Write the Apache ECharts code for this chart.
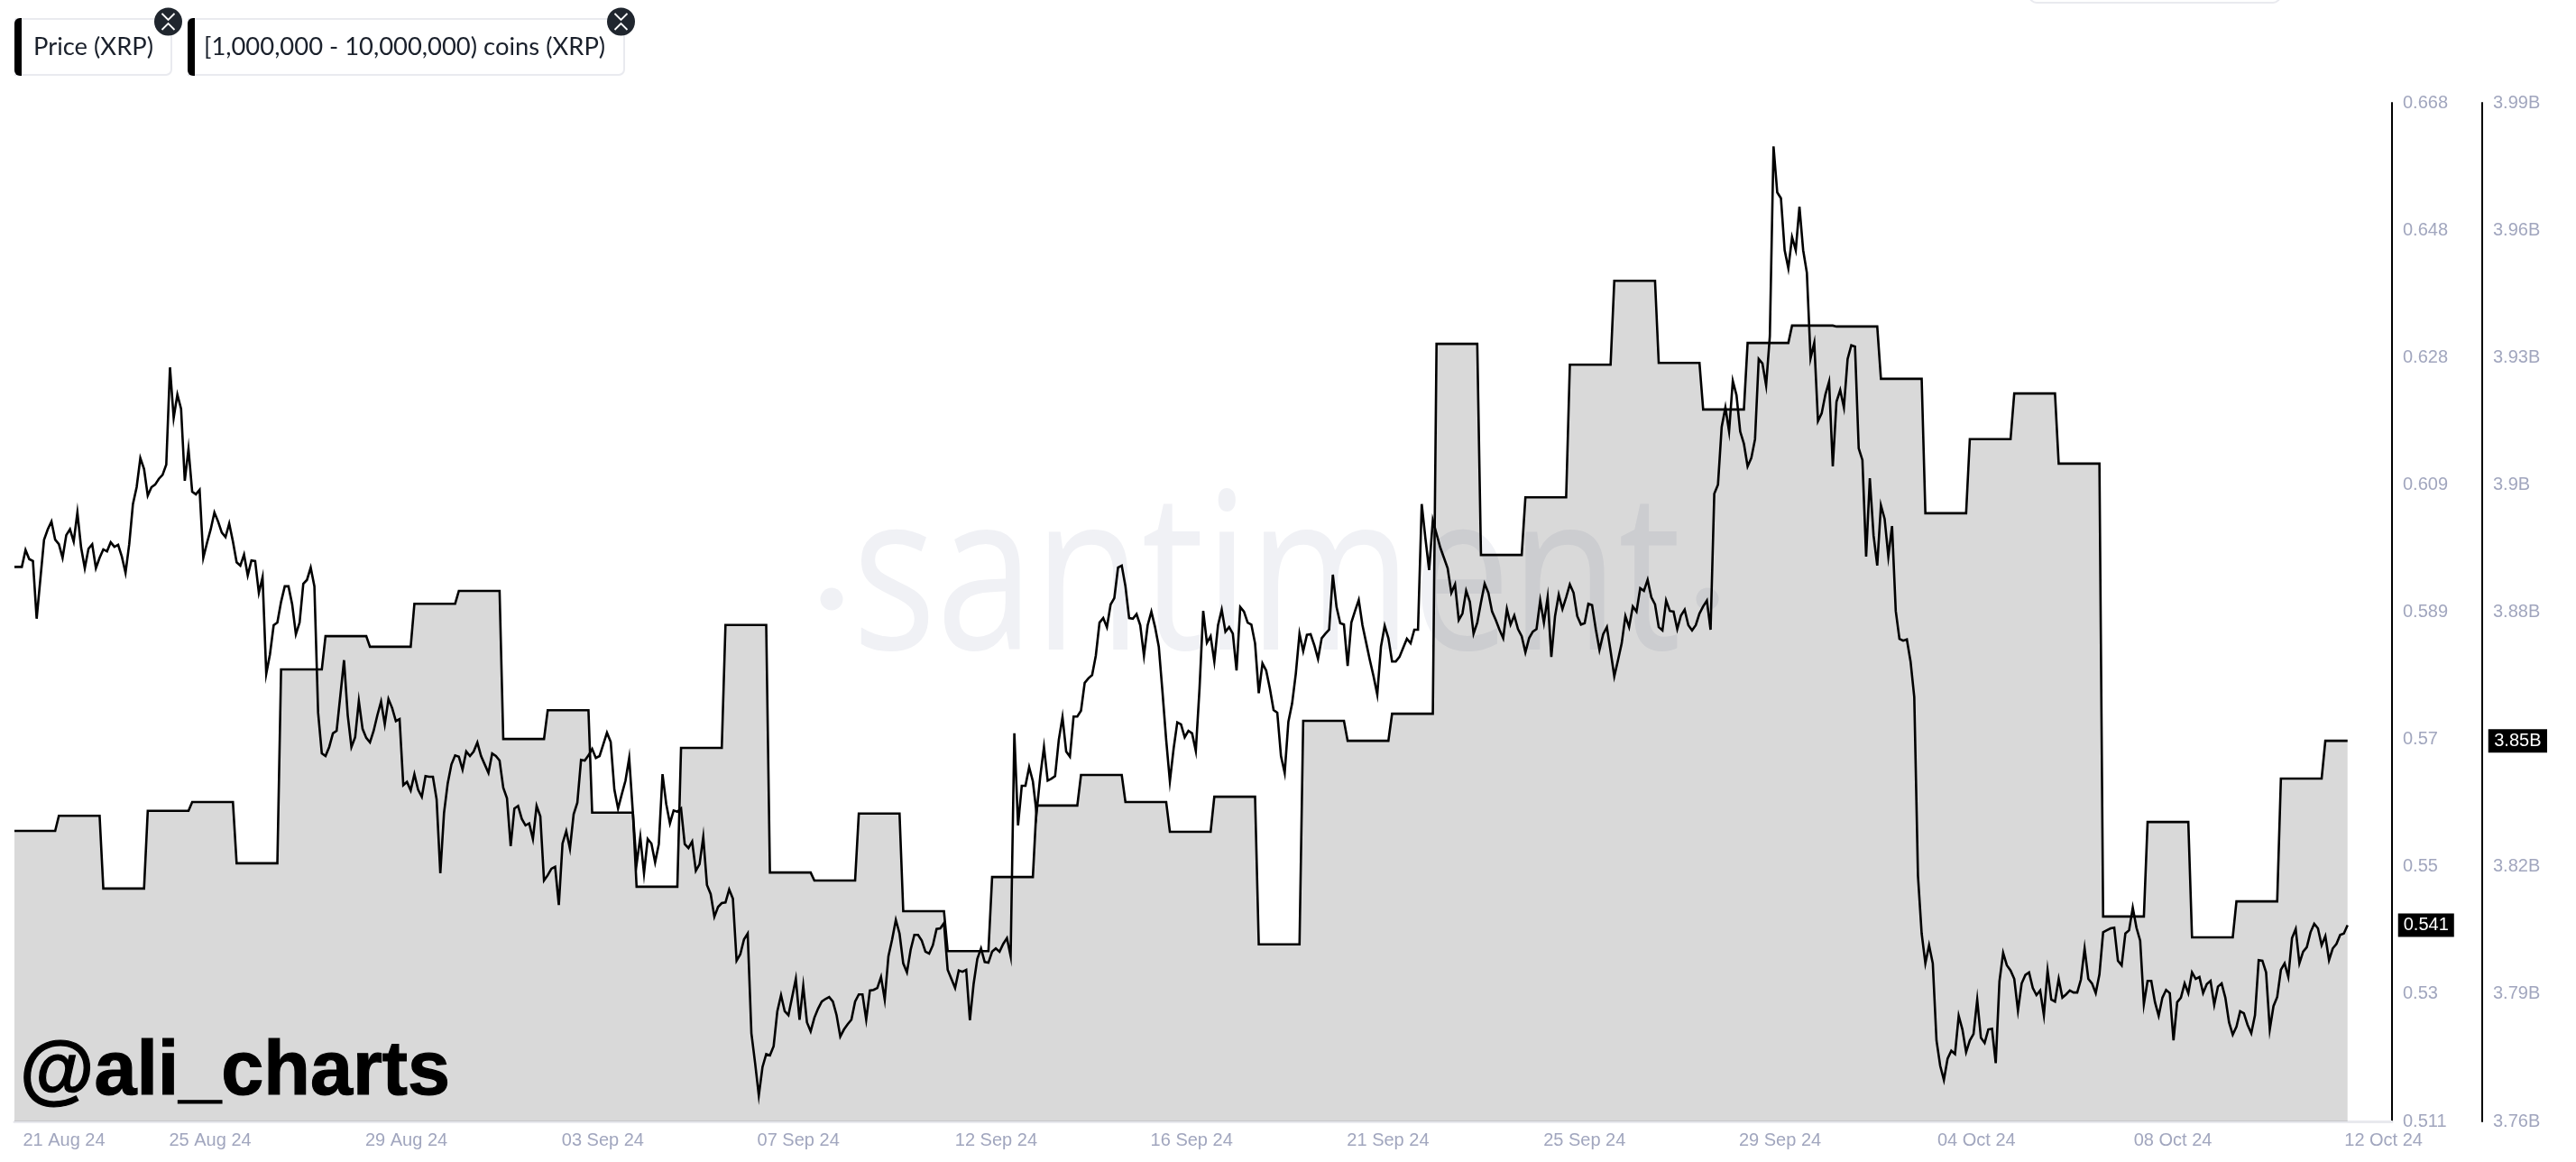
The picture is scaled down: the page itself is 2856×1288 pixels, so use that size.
<!DOCTYPE html>
<html>
<head>
<meta charset="utf-8">
<style>html,body{margin:0;padding:0;background:#fff}#chart{width:2856px;height:1288px}</style>
<script src="https://cdn.jsdelivr.net/npm/echarts@6/dist/echarts.min.js"></script>
</head>
<body>
<div id="chart"></div>
<script>
// Two-hourly XRP price, first sample 21 Aug 2024 03:00 UTC
const priceStart = '2024-08-21T03:00:00Z';
const priceStepHours = 2;
const priceValues = [
.5966,.5966,.5966,.5992,.5978,.5975,.5886,.5947,.6008,.6024,
.6036,.6008,.6001,.5980,.6015,.6024,.6005,.6050,.5996,.5964,
.5994,.6001,.5964,.5980,.5993,.5990,.6004,.5997,.6000,.5982,
.5957,.6001,.6063,.6089,.6134,.6117,.6076,.6089,.6093,.6102,
.6108,.6124,.6274,.6196,.6232,.6210,.6099,.6148,.6082,.6078,
.6085,.5980,.6003,.6024,.6050,.6036,.6019,.6012,.6033,.6005,
.5973,.5968,.5985,.5953,.5976,.5975,.5926,.5950,.5801,.5831,
.5876,.5880,.5912,.5936,.5936,.5908,.5862,.5880,.5940,.5946,
.5965,.5936,.5741,.5678,.5674,.5688,.5709,.5713,.5767,.5822,
.5737,.5688,.5703,.5759,.5716,.5702,.5695,.5713,.5737,.5758,
.5723,.5762,.5748,.5728,.5731,.5629,.5634,.5621,.5646,.5622,
.5611,.5643,.5642,.5642,.5607,.5493,.5586,.5632,.5661,.5675,
.5673,.5653,.5681,.5674,.5681,.5695,.5674,.5661,.5648,.5678,
.5674,.5667,.5625,.5609,.5535,.5593,.5597,.5577,.5567,.5570,
.5546,.5597,.5581,.5482,.5490,.5500,.5503,.5444,.5539,.5558,
.5531,.5584,.5602,.5668,.5667,.5675,.5685,.5671,.5674,.5692,
.5710,.5696,.5622,.5593,.5615,.5636,.5671,.5586,.5507,.5549,
.5493,.5546,.5539,.5510,.5538,.5646,.5600,.5570,.5590,.5588,
.5593,.5538,.5532,.5542,.5497,.5507,.5549,.5475,.5461,.5426,
.5441,.5447,.5448,.5468,.5454,.5358,.5368,.5391,.5400,.5246,
.5200,.5150,.5194,.5214,.5212,.5226,.5280,.5305,.5280,.5274,
.5302,.5330,.5267,.5319,.5263,.5249,.5270,.5284,.5295,.5299,
.5302,.5295,.5274,.5241,.5252,.5260,.5267,.5295,.5306,.5306,
.5267,.5312,.5313,.5316,.5333,.5298,.5365,.5391,.5421,.5400,
.5354,.5340,.5375,.5398,.5398,.5389,.5372,.5369,.5382,.5407,
.5408,.5416,.5344,.5330,.5316,.5343,.5341,.5344,.5266,.5322,
.5361,.5377,.5356,.5355,.5372,.5377,.5372,.5384,.5393,.5365,
.5709,.5567,.5628,.5628,.5657,.5635,.5586,.5643,.5688,.5636,
.5639,.5643,.5699,.5734,.5681,.5673,.5735,.5735,.5744,.5787,
.5794,.5799,.5829,.5880,.5887,.5873,.5908,.5918,.5965,.5968,
.5936,.5887,.5886,.5893,.5876,.5829,.5876,.5897,.5873,.5843,
.5773,.5699,.5635,.5685,.5726,.5723,.5703,.5713,.5709,.5682,
.5778,.5898,.5849,.5859,.5820,.5876,.5900,.5866,.5873,.5863,
.5806,.5904,.5897,.5880,.5877,.5848,.5771,.5817,.5806,.5778,
.5745,.5741,.5674,.5648,.5727,.5755,.5801,.5863,.5836,.5861,
.5862,.5845,.5824,.5856,.5863,.5869,.5954,.5904,.5879,.5877,
.5813,.5880,.5898,.5915,.5876,.5849,.5822,.5797,.5769,.5843,
.5875,.5856,.5820,.5820,.5827,.5841,.5855,.5848,.5869,.5869,
.6063,.6010,.5961,.6038,.6017,.5996,.5980,.5964,.5926,.5939,
.5884,.5894,.5929,.5912,.5863,.5880,.5911,.5940,.5926,.5897,
.5884,.5869,.5856,.5901,.5877,.5891,.5870,.5859,.5834,.5856,
.5866,.5870,.5914,.5880,.5919,.5827,.5890,.5923,.5901,.5919,
.5939,.5926,.5890,.5877,.5879,.5909,.5907,.5870,.5838,.5862,
.5873,.5836,.5797,.5822,.5848,.5890,.5873,.5905,.5897,.5933,
.5929,.5946,.5919,.5908,.5873,.5868,.5914,.5898,.5897,.5870,
.5891,.5900,.5876,.5868,.5876,.5894,.5905,.5914,.5869,.6079,
.6093,.6182,.6212,.6175,.6253,.6231,.6175,.6156,.6121,.6134,
.6163,.6287,.6280,.6246,.6322,.6615,.6544,.6535,.6455,.6427,
.6475,.6455,.6522,.6455,.6420,.6288,.6312,.6191,.6203,.6232,
.6252,.6121,.6221,.6239,.6212,.6287,.6308,.6306,.6149,.6131,
.5982,.6103,.6015,.5968,.6061,.6040,.5982,.6029,.5898,.5855,
.5852,.5854,.5820,.5765,.5489,.5400,.5354,.5382,.5354,.5235,
.5196,.5174,.5207,.5219,.5214,.5273,.5252,.5217,.5235,.5245,
.5298,.5239,.5231,.5252,.5253,.5200,.5326,.5370,.5351,.5343,
.5330,.5281,.5323,.5336,.5340,.5316,.5305,.5312,.5274,.5343,
.5298,.5295,.5330,.5301,.5306,.5312,.5309,.5309,.5329,.5377,
.5330,.5323,.5308,.5337,.5402,.5405,.5408,.5409,.5358,.5351,
.5400,.5405,.5440,.5409,.5389,.5291,.5327,.5327,.5294,.5273,
.5301,.5313,.5308,.5235,.5294,.5301,.5323,.5308,.5340,.5330,
.5333,.5308,.5322,.5327,.5290,.5318,.5323,.5301,.5263,.5244,
.5256,.5280,.5277,.5259,.5246,.5274,.5359,.5358,.5340,.5252,
.5288,.5302,.5344,.5354,.5333,.5393,.5407,.5354,.5372,.5379,
.5402,.5415,.5408,.5382,.5396,.5359,.5377,.5384,.5398,.5400,
.5413];
// Daily supply held by 1M-10M coin addresses, in billions of XRP
const supplyValues = [
3.8255,3.8289,3.8125,3.8300,3.8320,3.8182,3.8619,3.8694,3.8670,3.8767,
3.8796,3.8462,3.8527,3.8296,3.8129,3.8442,3.8719,3.8161,3.8143,3.8294,
3.8074,3.7984,3.8151,3.8312,3.8381,3.8320,3.8253,3.8332,3.7999,3.8503,
3.8458,3.8519,3.9353,3.8877,3.9007,3.9306,3.9495,3.9310,3.9205,3.9355,
3.9394,3.9392,3.9274,3.8971,3.9138,3.9241,3.9083,3.8062,3.8275,3.8015,
3.8096,3.8373,3.8458];
const tickDates = ['2024-08-22T05:48:00Z','2024-08-25T12:43:00Z','2024-08-29T22:41:00Z','2024-09-03T08:46:00Z','2024-09-07T18:22:00Z','2024-09-12T05:10:00Z','2024-09-16T14:46:00Z','2024-09-21T00:50:00Z','2024-09-25T10:55:00Z','2024-09-29T20:31:00Z','2024-10-04T06:36:00Z','2024-10-08T16:41:00Z','2024-10-13T10:26:00Z'];
const tickLabels = ['21 Aug 24','25 Aug 24','29 Aug 24','03 Sep 24','07 Sep 24','12 Sep 24','16 Sep 24','21 Sep 24','25 Sep 24','29 Sep 24','04 Oct 24','08 Oct 24','12 Oct 24'];
const priceAxisLabels = ['0.511','0.53','0.55','0.57','0.589','0.609','0.628','0.648','0.668'];
const supplyAxisLabels = ['3.76B','3.79B','3.82B','3.85B','3.88B','3.9B','3.93B','3.96B','3.99B'];
const seriesNames = ['Price (XRP)','[1,000,000 - 10,000,000) coins (XRP)'];
const priceLatest = '0.541';
const supplyLatest = '3.85B';

const HOUR = 3600000;
const t0 = Date.parse(priceStart);
const tEnd = Date.parse('2024-10-13T15:00:00Z');
const priceData = priceValues.map((v, i) => [t0 + i * priceStepHours * HOUR, v]);
const lastTime = priceData[priceData.length - 1][0];
const supplyData = [];
supplyValues.forEach((v, d) => {
  const a = t0 + d * 24 * HOUR;
  supplyData.push([a, v]);
  supplyData.push([Math.min(a + 22 * HOUR, lastTime), v]);
});
const tickMs = tickDates.map(s => Date.parse(s));
const labelByTime = new Map(tickMs.map((t, i) => [t, tickLabels[i]]));

const priceMin = 0.511, priceInterval = priceMin / 26;
const supplyMin = 3.76, supplyInterval = supplyMin / 131;

const AXIS_TEXT = '#a1a6be';
const SANS = '"Liberation Sans", Arial, sans-serif';

function chip(x, w, label, textX) {
  const cx = x + w - 3.5, cy = 24;
  return [
    {type:'rect', z:50, shape:{x:x+1, y:21, width:w-1, height:62, r:[0,6,6,0]}, style:{fill:'#fff', stroke:'#e9eaef', lineWidth:2}},
    {type:'rect', z:51, shape:{x:x, y:20, width:8, height:64, r:[6,0,0,6]}, style:{fill:'#000'}},
    {type:'text', z:52, x:textX, y:52, style:{text:label, font:'27.4px Lato', fill:'#1a202b', textVerticalAlign:'middle'}},
    {type:'circle', z:53, shape:{cx:cx, cy:cy, r:15.5}, style:{fill:'#20262e'}},
    {type:'polyline', z:54, shape:{points:[[cx-7,cy-9],[cx,cy-2],[cx+7,cy-9]]}, style:{stroke:'#fff', lineWidth:1.8, fill:null}},
    {type:'polyline', z:54, shape:{points:[[cx-7,cy+9],[cx,cy+2],[cx+7,cy+9]]}, style:{stroke:'#fff', lineWidth:1.8, fill:null}}
  ];
}

const chart = echarts.init(document.getElementById('chart'), null, {renderer:'canvas', width:2856, height:1288});
chart.setOption({
  animation:false,
  backgroundColor:'#fff',
  grid:{left:16, right:204, top:114, bottom:45, containLabel:false},
  xAxis:{
    type:'value', min:t0, max:tEnd, scale:true,
    axisLine:{show:true, onZero:false, lineStyle:{color:'#e8e9ee', width:3}},
    axisTick:{show:false}, splitLine:{show:false},
    axisLabel:{
      customValues:tickMs, margin:11, color:AXIS_TEXT, fontSize:20, fontFamily:SANS,
      hideOverlap:false, showMinLabel:true, showMaxLabel:true,
      formatter:(v)=>labelByTime.get(+v) || ''
    }
  },
  yAxis:[
    {type:'value', position:'right', offset:0, min:priceMin, max:priceMin+8*priceInterval, interval:priceInterval,
     axisLine:{show:true, onZero:false, lineStyle:{color:'#000', width:2}}, axisTick:{show:false}, splitLine:{show:false},
     axisLabel:{margin:12, color:AXIS_TEXT, fontSize:20, fontFamily:SANS, formatter:(v,i)=>priceAxisLabels[i]}},
    {type:'value', position:'right', offset:100, min:supplyMin, max:supplyMin+8*supplyInterval, interval:supplyInterval,
     axisLine:{show:true, onZero:false, lineStyle:{color:'#000', width:2}}, axisTick:{show:false}, splitLine:{show:false},
     axisLabel:{margin:12, color:AXIS_TEXT, fontSize:20, fontFamily:SANS, formatter:(v,i)=>supplyAxisLabels[i]}}
  ],
  series:[
    {name:seriesNames[1], type:'line', yAxisIndex:1, data:supplyData, showSymbol:false, symbol:'none', smooth:false, z:3,
     lineStyle:{color:'#000', width:2.6, join:'miter'}, areaStyle:{color:'#000', opacity:0.15},
     endLabel:{show:true, formatter:()=>supplyLatest, distance:156, color:'#fff', backgroundColor:'#000', padding:[3,6.5], fontSize:20, fontFamily:SANS, lineHeight:20}},
    {name:seriesNames[0], type:'line', yAxisIndex:0, data:priceData, showSymbol:false, symbol:'none', smooth:false, z:4,
     lineStyle:{color:'#000', width:2.6, join:'miter'},
     endLabel:{show:true, formatter:()=>priceLatest, distance:56, color:'#fff', backgroundColor:'#000', padding:[3,6], fontSize:20, fontFamily:SANS, lineHeight:20}}
  ],
  graphic:{elements:[
    {type:'text', z:-1, x:945, y:772, scaleY:1.25, originY:0, style:{text:'santiment', font:'400 195px "Open Sans"', fill:'#f0f1f5', textVerticalAlign:'bottom'}},
    {type:'circle', z:-1, shape:{cx:922, cy:664, r:12.5}, style:{fill:'#f0f1f5'}},
    {type:'circle', z:-1, shape:{cx:1893, cy:664, r:12.5}, style:{fill:'#f0f1f5'}},
    {type:'text', z:40, x:22, y:1190, style:{text:'@ali_charts', font:'bold 84.5px "Liberation Sans"', fill:'#000', stroke:'#000', lineWidth:1.2, textVerticalAlign:'middle'}},
    {type:'rect', z:50, shape:{x:2250, y:-30, width:278, height:33, r:8}, style:{fill:'#fff', stroke:'#e9eaef', lineWidth:2}},
    ...chip(16, 174, seriesNames[0], 37),
    ...chip(208, 484, seriesNames[1], 226)
  ]}
});
</script>
</body>
</html>
